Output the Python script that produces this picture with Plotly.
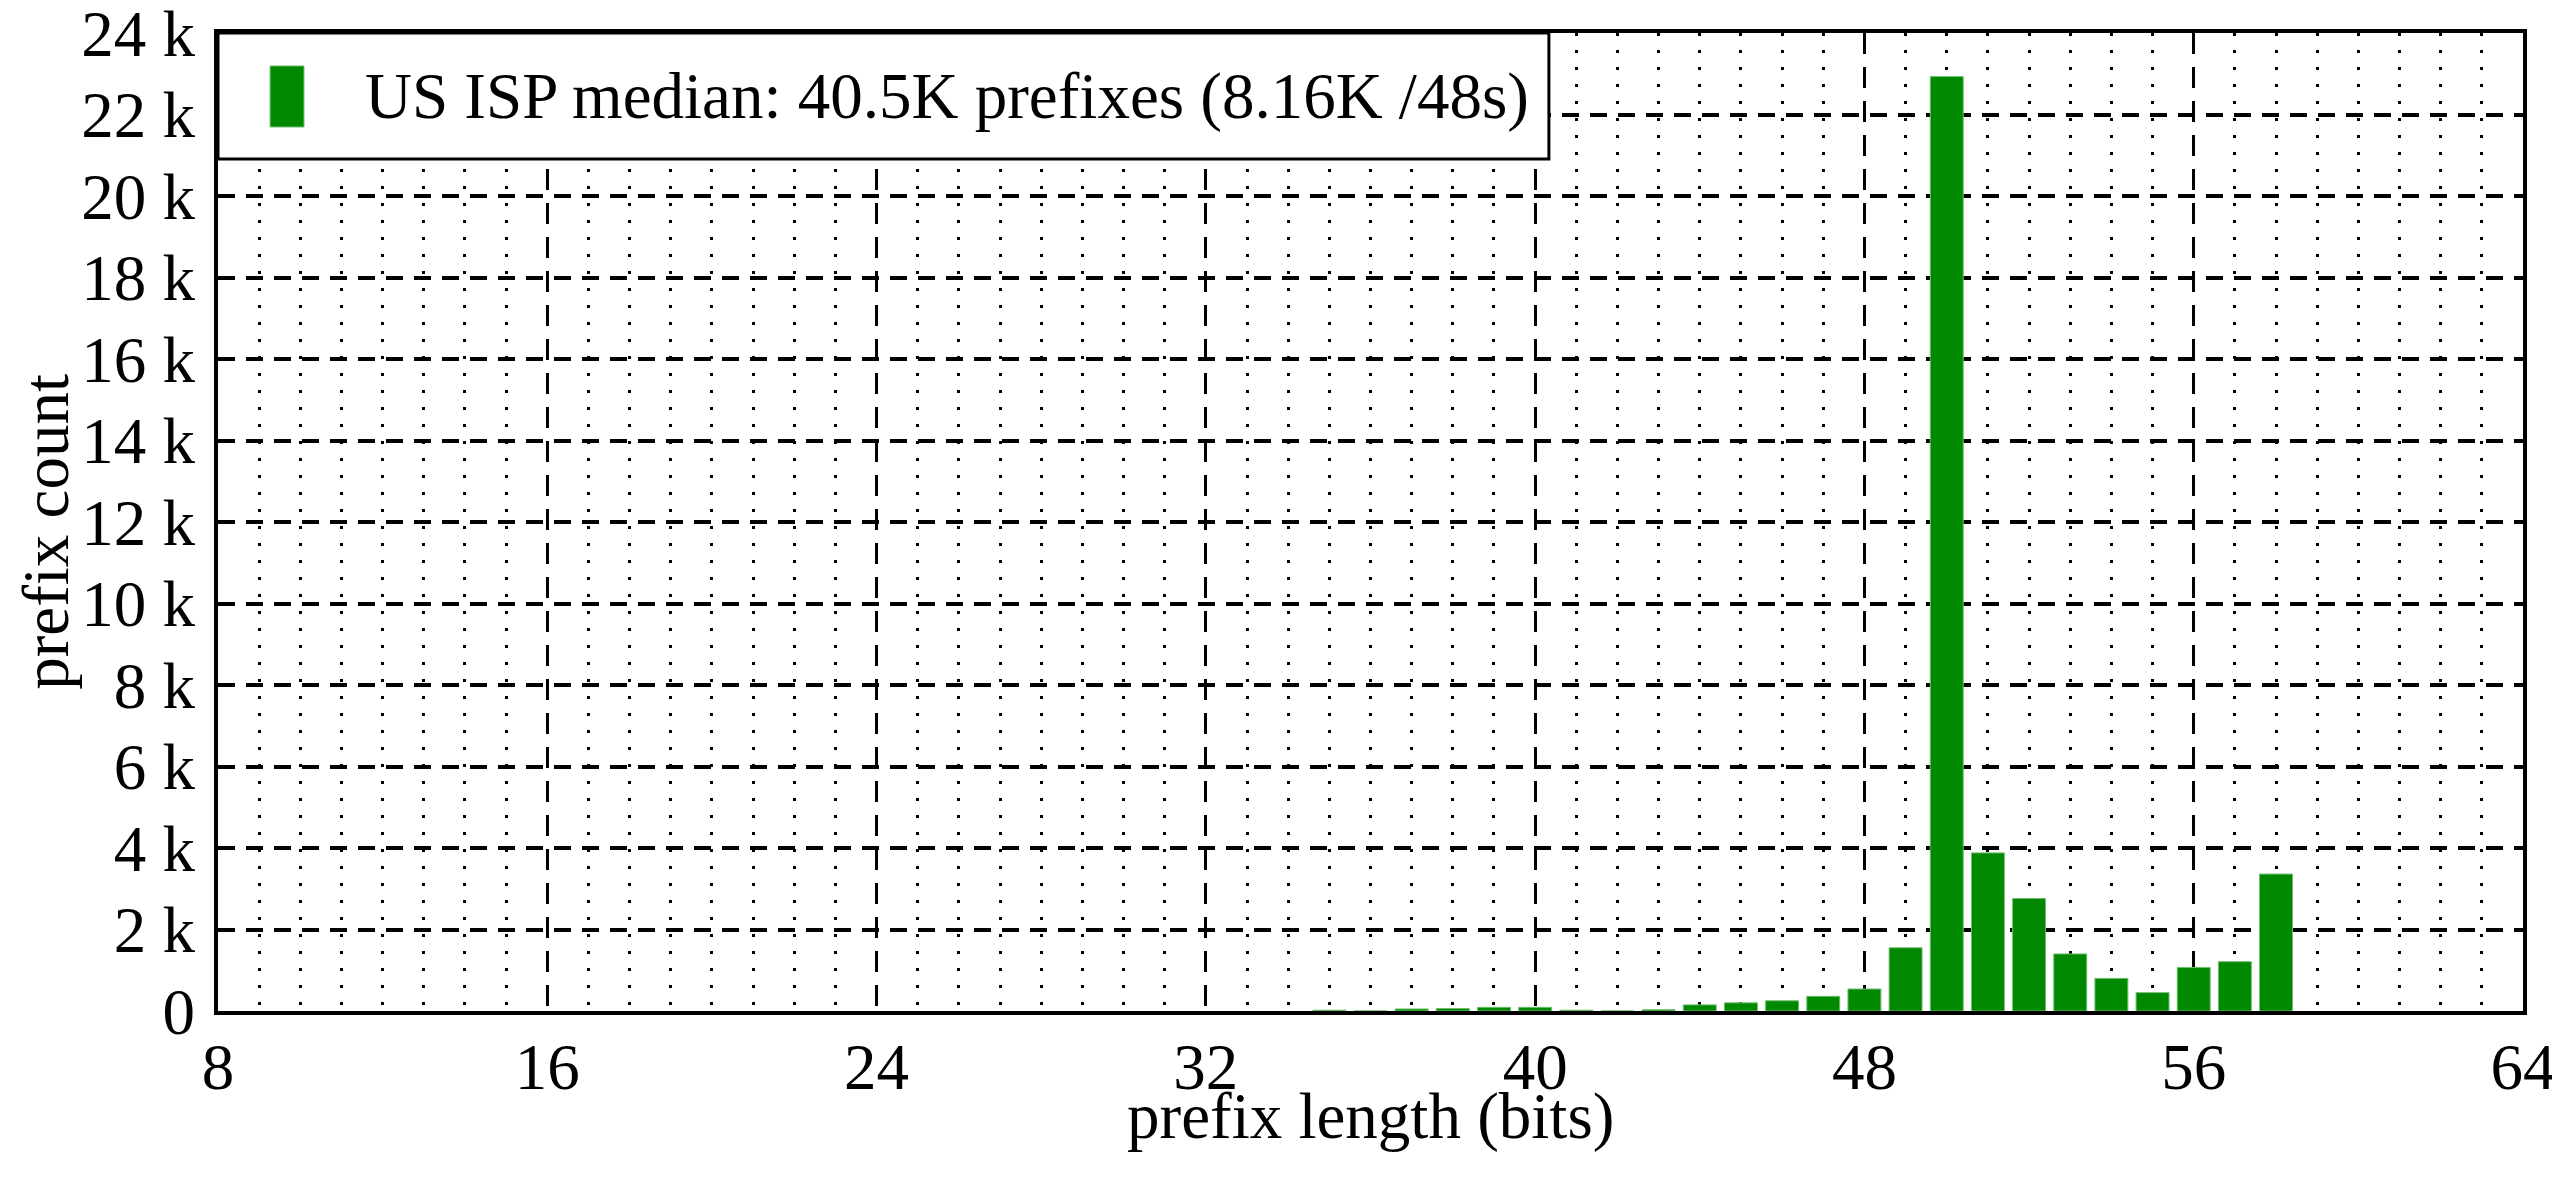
import plotly.graph_objects as go

# Data
prefix_length = list(range(35, 59))
prefix_count = [20, 0, 50, 60, 90, 90, 20, 0, 30, 150, 200, 250, 360, 540,
                1550, 22930, 3880, 2760, 1400, 800, 450, 1070, 1210, 3360]
series_name = "US ISP median: 40.5K prefixes (8.16K /48s)"
x_title = "prefix length (bits)"
y_title = "prefix count"
x_ticks = [8, 16, 24, 32, 40, 48, 56, 64]
y_ticks = list(range(0, 24001, 2000))
y_ticktext = ["0"] + [f"{v // 1000} k" for v in y_ticks[1:]]

FONT = "Liberation Serif, Times New Roman, serif"
GREEN = "#008800"
FS = 65

fig = go.Figure()
fig.add_trace(go.Bar(
    x=prefix_length, y=prefix_count, name=series_name,
    marker=dict(color=GREEN, line=dict(color="rgba(110,190,110,1)", width=1)),
    width=0.8, showlegend=False,
))

fig.update_layout(
    width=2544, height=1177,
    margin=dict(l=210, r=29, t=25, b=174, autoexpand=False),
    paper_bgcolor="white", plot_bgcolor="white",
    font=dict(family=FONT, size=FS, color="black"),
    xaxis=dict(
        range=[8, 64], tickvals=x_ticks, ticktext=[str(v) for v in x_ticks],
        showgrid=True, gridcolor="black", gridwidth=3, griddash="21px,13px",
        ticks="", ticklabelstandoff=-4,
        minor=dict(dtick=1, tick0=8, showgrid=True, gridcolor="black", gridwidth=3,
                   griddash="3px,14px", ticks=""),
        showline=True, linecolor="black", linewidth=4, mirror=True,
        zeroline=False, automargin=False,
        tickfont=dict(size=FS),
        ticklabeloverflow="allow",
    ),
    yaxis=dict(
        range=[0, 24000], tickvals=y_ticks, ticktext=y_ticktext,
        showgrid=True, gridcolor="black", gridwidth=4, griddash="17px,11px",
        ticks="", ticklabelstandoff=6,
        showline=True, linecolor="black", linewidth=4, mirror=True,
        zeroline=False, automargin=False,
        tickfont=dict(size=FS),
        ticklabeloverflow="allow",
    ),
)

# Axis titles
fig.add_annotation(text=x_title, xref="paper", yref="paper", x=0.5, y=-0.1075,
                   xanchor="center", yanchor="middle", showarrow=False,
                   font=dict(family=FONT, size=FS, color="black"))
fig.add_annotation(text=y_title, xref="paper", yref="paper", x=-0.0746, y=0.49,
                   xanchor="center", yanchor="middle", showarrow=False, textangle=-90,
                   font=dict(family=FONT, size=FS, color="black"))

# Legend box drawn as shapes (paper coords)
fig.add_shape(type="rect", xref="paper", yref="paper", x0=0, x1=0.5774, y0=0.8712, y1=1,
              line=dict(color="black", width=3), fillcolor="white", layer="above")
fig.add_shape(type="rect", xref="paper", yref="paper", x0=0.0226, x1=0.0373,
              y0=0.9039, y1=0.9663, line=dict(color="rgba(110,190,110,1)", width=1),
              fillcolor=GREEN, layer="above")
fig.add_annotation(text=series_name, xref="paper", yref="paper", x=0.0628, y=0.9356,
                   xanchor="left", yanchor="middle", showarrow=False,
                   font=dict(family=FONT, size=FS, color="black"))

fig.write_html("out.html")
